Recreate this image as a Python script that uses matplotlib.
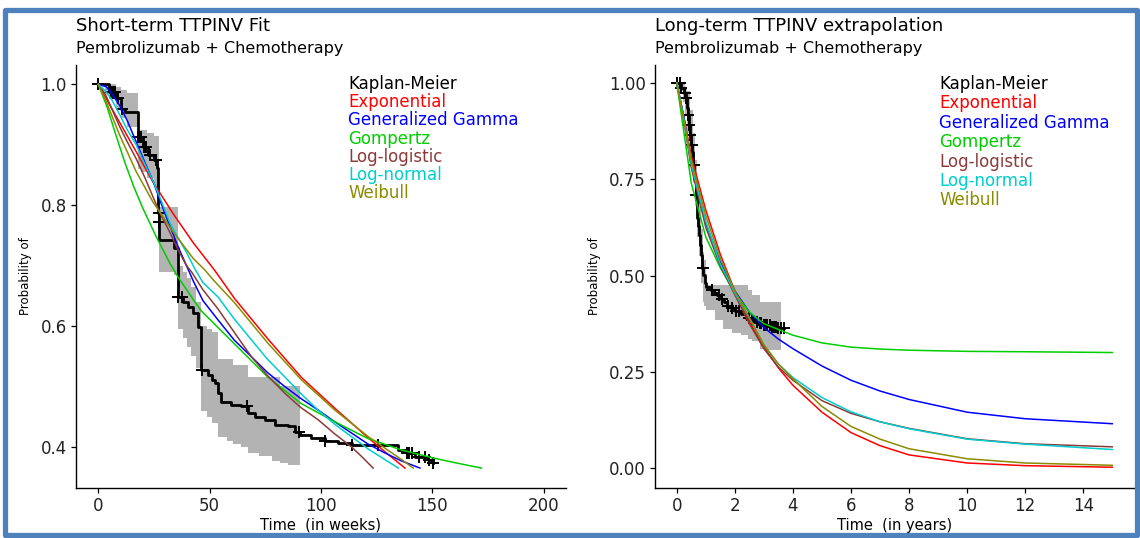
import numpy as np
import matplotlib
matplotlib.use('Agg')
import matplotlib.pyplot as plt
from matplotlib.patches import Rectangle

plt.rcParams['font.family'] = ['DejaVu Sans']

# ---------------- data: short-term (weeks) ----------------
km_w_t = [0, 5, 8, 10, 12, 17.8, 20, 22.3, 25, 26.5, 27.0, 27.2, 27.3, 34.2, 35.8, 38, 40.3, 42.6, 44.8,
          46.3, 49.3, 51, 52.3, 53.8, 55.3, 59.8, 64.3, 67.3, 70.3, 74.7, 79.2, 85.3, 88.2, 90.5, 95.7,
          101.7, 107.7, 113.7, 134.6, 138.4, 142.2, 148.2, 150.4]
km_w_s = [1.0, 0.987, 0.977, 0.96, 0.955, 0.913, 0.896, 0.883, 0.874, 0.861, 0.787, 0.772, 0.742, 0.729, 0.648,
          0.640, 0.632, 0.621, 0.599, 0.527, 0.519, 0.510, 0.505, 0.489, 0.475, 0.469, 0.467, 0.456, 0.450,
          0.445, 0.436, 0.434, 0.425, 0.420, 0.414, 0.409, 0.406, 0.403, 0.395, 0.390, 0.384, 0.378, 0.374]
cens_w = [0, 5.5, 6.5, 7.5, 9, 10.5, 17.9, 18.5, 19.2, 20.5, 21.5, 23, 26, 27.1, 27.25, 36, 37.5, 46.5,
          66.7, 90, 102, 113.7, 125.7, 138.5, 139.5, 141, 144, 146.5, 148.5, 150.4]
ci_w_t = [0, 3, 5, 8, 10, 13, 17.8, 19, 22, 25, 27.3, 30, 34.2, 35.8, 38, 40, 41.8, 44, 46.3, 49, 51, 53.8,
          58, 60.5, 64, 67, 72, 78, 81.5, 85, 90.5]
ci_w_hi = [1.0, 1.0, 1.0, 0.995, 0.99, 0.985, 0.925, 0.925, 0.92, 0.915, 0.797, 0.797, 0.797, 0.70, 0.69, 0.68,
           0.665, 0.64, 0.60, 0.595, 0.59, 0.545, 0.545, 0.535, 0.535, 0.516, 0.516, 0.516, 0.50, 0.50, 0.50]
ci_w_lo = [1.0, 0.985, 0.975, 0.96, 0.945, 0.93, 0.86, 0.855, 0.845, 0.83, 0.69, 0.69, 0.685, 0.595, 0.58,
           0.565, 0.55, 0.53, 0.46, 0.45, 0.44, 0.417, 0.41, 0.405, 0.40, 0.39, 0.385, 0.376, 0.374, 0.37, 0.368]

exp_w_t = [0, 3.6, 9.6, 17.1, 24.6, 33.6, 42.6, 52.3, 61.3, 76.3, 91.2, 106.2, 121.2, 128.7, 137.7]
exp_w_s = [1.0, 0.976, 0.937, 0.888, 0.838, 0.786, 0.738, 0.692, 0.645, 0.578, 0.515, 0.464, 0.415, 0.392, 0.365]
gg_w_t = [0, 3.6, 6, 9.6, 13, 17, 21, 24.6, 28, 32, 36, 39.6, 42.6, 47, 53.8, 61, 68.8, 76, 83.7, 91, 98.7,
          106, 113.7, 121, 128.7, 136, 144.4]
gg_w_s = [1.0, 0.996, 0.985, 0.965, 0.94, 0.905, 0.87, 0.84, 0.805, 0.767, 0.73, 0.70, 0.675, 0.642, 0.61,
          0.577, 0.549, 0.523, 0.50, 0.48, 0.461, 0.442, 0.423, 0.405, 0.39, 0.377, 0.365]
gomp_w_t = [0, 4, 8, 12, 16, 20, 26, 32, 36, 46, 61, 76, 91, 106, 121, 136, 150, 160, 172]
gomp_w_s = [1.0, 0.962, 0.915, 0.87, 0.83, 0.795, 0.748, 0.705, 0.68, 0.626, 0.571, 0.516, 0.472, 0.442,
            0.414, 0.395, 0.382, 0.374, 0.365]
ll_w_t = [0, 3, 6, 9.6, 13, 17, 21, 25, 28, 32, 36, 39.6, 41.8, 47, 53.8, 61, 68.8, 76, 83.7, 91, 98.7,
          106, 113.7, 118, 123.4]
ll_w_s = [1.0, 0.985, 0.96, 0.93, 0.905, 0.877, 0.845, 0.81, 0.785, 0.756, 0.725, 0.70, 0.69, 0.66, 0.628,
          0.59, 0.549, 0.518, 0.489, 0.465, 0.445, 0.422, 0.40, 0.385, 0.365]
ln_w_t = [0, 3, 6, 9.6, 13, 17, 20, 24.6, 28, 32, 36, 39.6, 43.3, 47, 53.8, 61, 68.8, 76, 83.7, 91, 98.7,
          106, 113.7, 121, 128.7, 134.7]
ln_w_s = [1.0, 0.99, 0.975, 0.95, 0.925, 0.9, 0.875, 0.84, 0.81, 0.772, 0.745, 0.722, 0.695, 0.672, 0.648,
          0.612, 0.577, 0.545, 0.516, 0.488, 0.461, 0.438, 0.417, 0.397, 0.379, 0.365]
wei_w_t = [0, 3.6, 9.6, 17.1, 24.6, 33.6, 42.6, 47.8, 51.5, 61.3, 76.3, 91.2, 106.2, 121.2, 136.2, 141.4]
wei_w_s = [1.0, 0.971, 0.916, 0.855, 0.805, 0.756, 0.712, 0.693, 0.677, 0.638, 0.571, 0.511, 0.461, 0.417,
           0.379, 0.365]

# ---------------- data: long-term (years) ----------------
km_y_t = [0, 0.14, 0.25, 0.31, 0.35, 0.37, 0.42, 0.46, 0.5, 0.54, 0.56, 0.6, 0.65, 0.69, 0.73, 0.77, 0.8,
          0.83, 0.88, 0.92, 0.96, 1.0, 1.17, 1.28, 1.4, 1.52, 1.63, 1.74, 1.86, 2.0, 2.2, 2.4, 2.55, 2.66,
          2.8, 3.0, 3.23, 3.45, 3.69]
km_y_s = [1.0, 0.986, 0.975, 0.96, 0.935, 0.917, 0.89, 0.865, 0.84, 0.822, 0.787, 0.752, 0.709, 0.649, 0.63,
          0.605, 0.58, 0.553, 0.52, 0.501, 0.48, 0.47, 0.462, 0.454, 0.449, 0.44, 0.432, 0.42, 0.415, 0.407,
          0.399, 0.39, 0.385, 0.38, 0.376, 0.371, 0.366, 0.363, 0.363]
cens_y = [0, 0.1, 0.15, 0.3, 0.33, 0.38, 0.4, 0.43, 0.47, 0.52, 0.58, 0.66, 0.9, 1.2, 1.45, 1.55, 1.75,
          1.9, 2.05, 2.15, 2.5, 2.6, 2.75, 2.85, 2.9, 3.0, 3.05, 3.1, 3.2, 3.28, 3.35, 3.42, 3.5, 3.6, 3.69]
ci_y_t = [0, 0.2, 0.3, 0.35, 0.45, 0.55, 0.62, 0.68, 0.75, 0.82, 0.9, 0.95, 1.0, 1.3, 1.6, 1.9, 2.2, 2.45,
          2.6, 2.85, 3.0, 3.58]
ci_y_hi = [1.0, 1.0, 0.99, 0.98, 0.93, 0.87, 0.80, 0.74, 0.68, 0.62, 0.56, 0.54, 0.475, 0.475, 0.475, 0.475,
           0.475, 0.462, 0.45, 0.432, 0.432, 0.432]
ci_y_lo = [0.98, 0.95, 0.92, 0.87, 0.80, 0.74, 0.68, 0.60, 0.55, 0.48, 0.43, 0.42, 0.41, 0.384, 0.36, 0.35,
           0.345, 0.335, 0.33, 0.31, 0.306, 0.306]

yrs = [0, 0.25, 0.5, 1, 1.5, 2, 2.5, 3, 3.5, 4, 5, 6, 7, 8, 10, 12, 15]
exp_y_s = [1.0, 0.91, 0.81, 0.67, 0.555, 0.46, 0.38, 0.315, 0.26, 0.215, 0.145, 0.092, 0.058, 0.034, 0.013, 0.006, 0.002]
gg_y_s = [1.0, 0.91, 0.785, 0.635, 0.535, 0.46, 0.405, 0.365, 0.335, 0.31, 0.265, 0.228, 0.2, 0.178, 0.145, 0.128, 0.115]
gomp_y_s = [1.0, 0.87, 0.74, 0.60, 0.52, 0.455, 0.405, 0.375, 0.36, 0.345, 0.325, 0.314, 0.309, 0.306, 0.303, 0.302, 0.30]
ll_y_s = [1.0, 0.90, 0.78, 0.625, 0.525, 0.45, 0.375, 0.31, 0.262, 0.228, 0.175, 0.142, 0.12, 0.103, 0.076, 0.063, 0.055]
ln_y_s = [1.0, 0.905, 0.79, 0.64, 0.53, 0.455, 0.39, 0.32, 0.27, 0.235, 0.183, 0.146, 0.12, 0.102, 0.075, 0.062, 0.048]
wei_y_s = [1.0, 0.90, 0.80, 0.655, 0.545, 0.46, 0.39, 0.32, 0.27, 0.232, 0.16, 0.108, 0.075, 0.05, 0.024, 0.013, 0.007]

labels = ['Kaplan-Meier', 'Exponential', 'Generalized Gamma', 'Gompertz', 'Log-logistic', 'Log-normal', 'Weibull']
colors = ['black', '#FF0000', '#0000FF', '#00CD00', '#8B3A3A', '#00CDCD', '#8B8B00']

fig = plt.figure(figsize=(11.4, 5.38), dpi=100)
W, H = 1140, 538


def px_ax(x0, x1, y0, y1):
    return fig.add_axes([x0 / W, 1 - y1 / H, (x1 - x0) / W, (y1 - y0) / H])


def style(ax):
    for s in ['top', 'right']:
        ax.spines[s].set_visible(False)
    for s in ['left', 'bottom']:
        ax.spines[s].set_linewidth(1.0)
    ax.tick_params(direction='out', length=3.5, width=0.9, labelsize=12, labelcolor='#222222', pad=3)


def km_panel(ax, km_t, km_s, cens, ci_t, lo, hi, fits, ms):
    ax.fill_between(ci_t, lo, hi, step='post', color='#B3B3B3', lw=0)
    ax.step(km_t, km_s, where='post', color='black', lw=2.0)
    idx = np.searchsorted(km_t, cens, side='right') - 1
    ax.plot(cens, np.array(km_s)[idx], ls='none', marker='+', color='black', ms=ms, mew=1.4)
    for (t, s), c in zip(fits, colors[1:]):
        ax.plot(t, s, color=c, lw=1.1)


# left panel
ax1 = px_ax(76, 566, 65, 488)
km_panel(ax1, km_w_t, km_w_s, cens_w, ci_w_t, ci_w_lo, ci_w_hi,
         [(exp_w_t, exp_w_s), (gg_w_t, gg_w_s), (gomp_w_t, gomp_w_s), (ll_w_t, ll_w_s),
          (ln_w_t, ln_w_s), (wei_w_t, wei_w_s)], 8)
ax1.set_xlim(-10, 210)
ax1.set_ylim(0.332, 1.032)
ax1.set_xticks([0, 50, 100, 150, 200])
ax1.set_yticks([0.4, 0.6, 0.8, 1.0])
ax1.set_yticklabels(['0.4', '0.6', '0.8', '1.0'])
style(ax1)
ax1.set_xlabel('Time  (in weeks)', fontsize=10.5, labelpad=2)
ax1.set_ylabel('Probability of', fontsize=8.5, labelpad=6)

# right panel
ax2 = px_ax(655, 1134, 65, 488)
km_panel(ax2, km_y_t, km_y_s, cens_y, ci_y_t, ci_y_lo, ci_y_hi,
         [(yrs, exp_y_s), (yrs, gg_y_s), (yrs, gomp_y_s), (yrs, ll_y_s), (yrs, ln_y_s), (yrs, wei_y_s)], 8)
ax2.set_xlim(-0.75, 15.75)
ax2.set_ylim(-0.052, 1.047)
ax2.set_xticks(range(0, 15, 2))
ax2.set_yticks([0, 0.25, 0.5, 0.75, 1.0])
ax2.set_yticklabels(['0.00', '0.25', '0.50', '0.75', '1.00'])
style(ax2)
ax2.set_xlabel('Time  (in years)', fontsize=10.5, labelpad=2)
ax2.set_ylabel('Probability of', fontsize=8.5, labelpad=6)

# titles
for ax, title, x0 in [(ax1, 'Short-term TTPINV Fit', 76), (ax2, 'Long-term TTPINV extrapolation', 655)]:
    fig.text(x0 / W, 1 - 26 / H, title, fontsize=13, va='center', ha='left')
    fig.text(x0 / W, 1 - 49 / H, 'Pembrolizumab + Chemotherapy', fontsize=11.5, va='center', ha='left')

# text legends
for ax, x0, x1, y0, step in [(ax1, 348, 566, 84, 18.2), (ax2, 939, 1134, 84, 19.4)]:
    for i, (lab, c) in enumerate(zip(labels, colors)):
        fig.text(x0 / W, 1 - (y0 + i * step) / H, lab, color=c, fontsize=12, va='center', ha='left')

# slide frame
fig.patches.append(Rectangle((4.5 / W, 1 - 535 / H), 1132 / W, 525.5 / H, transform=fig.transFigure,
                             fill=False, edgecolor='#4F81BD', lw=3.8, joinstyle='round'))

fig.savefig('out.png', dpi=100)
